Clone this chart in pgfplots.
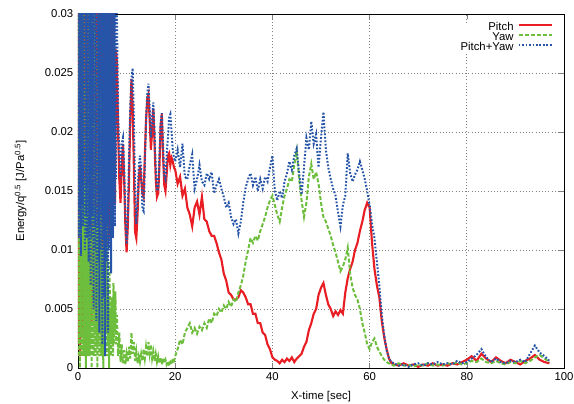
\documentclass[border=0pt]{standalone}
\usepackage{fontspec}
\setmainfont{Liberation Sans}
\usepackage{pgfplots}
\pgfplotsset{compat=1.18}
\definecolor{pitchred}{RGB}{232,30,36}
\definecolor{yawgreen}{RGB}{110,190,62}
\definecolor{sumblue}{RGB}{38,84,168}
\begin{document}
\begin{tikzpicture}
\begin{axis}[
    scale only axis,
    width=364.5pt, height=265.5pt,
    xmin=0, xmax=100, ymin=0, ymax=0.03,
    xtick={0,20,40,60,80,100},
    ytick={0,0.005,0.01,0.015,0.02,0.025,0.03},
    yticklabels={0,0.005,0.01,0.015,0.02,0.025,0.03},
    scaled y ticks=false,
    /pgf/number format/assume math mode=true,
    font=\fontsize{8.5}{10}\selectfont,
    tick label style={font=\fontsize{8.5}{10}\selectfont},
    tick align=inside,
    major tick length=4pt,
    axis line style={line width=0.6pt},
    xmajorgrids=true, ymajorgrids=true,
    grid style={dotted, gray, line width=0.6pt},
    xlabel={X-time [sec]},
    ylabel={Energy/q\textsuperscript{0.5} [J/Pa\textsuperscript{0.5}]},
    xlabel style={yshift=-1pt},
    ylabel style={yshift=7pt},
    legend style={draw=none, fill=white, at={(1,1)}, anchor=north east,
        xshift=-8.25pt, yshift=-6.5pt,
        font=\fontsize{8.5}{9}\selectfont, row sep=0.5pt, column sep=3pt, inner sep=0pt,
        cells={anchor=east},
        nodes={inner sep=0pt, text height=5.5pt, text depth=1.5pt}},
    legend plot pos=right,
    legend image code/.code={\draw[#1] (0cm,0.07cm) -- (0.87cm,0.07cm);},
]
\coordinate (sw) at (rel axis cs:0,0);
\coordinate (ne) at (rel axis cs:1,1);

% Pitch
\addplot[color=pitchred, line width=1.6pt] coordinates {
(0,0.002)(0.2,0.035)(0.4,0.001)(0.6,0.034)(0.8,0.003)(1.0,0.036)(1.2,0.002)(1.4,0.033)(1.6,0.004)(1.8,0.035)
(2.0,0.003)(2.2,0.034)(2.4,0.005)(2.6,0.036)(2.8,0.004)(3.0,0.033)(3.2,0.006)(3.4,0.035)(3.6,0.005)(3.8,0.034)
(4.0,0.007)(4.2,0.035)(4.4,0.006)(4.6,0.033)(4.8,0.008)(5.0,0.034)(5.2,0.009)(5.4,0.035)(5.6,0.008)(5.8,0.033)
(6.0,0.010)(6.2,0.034)(6.4,0.011)(6.6,0.032)(6.8,0.012)(7.0,0.031)(7.2,0.013)(7.4,0.030)(7.6,0.014)(7.8,0.027)
(8.0,0.026)(8.25,0.020)(8.5,0.016)(8.75,0.014)(9.0,0.017)(9.25,0.019)(9.5,0.016)(9.75,0.012)
(10.0,0.0098)(10.25,0.012)(10.5,0.016)(10.75,0.021)(11.0,0.0245)(11.25,0.022)(11.5,0.017)(11.75,0.0115)
(12.0,0.011)(12.25,0.013)(12.5,0.016)(12.75,0.0172)(13.0,0.016)(13.25,0.0148)(13.5,0.0145)(13.75,0.018)
(14.0,0.021)(14.25,0.0228)(14.5,0.0232)(14.75,0.021)(15.0,0.0185)(15.25,0.020)(15.5,0.022)(15.75,0.019)
(16.0,0.016)(16.25,0.0145)(16.5,0.0148)(16.75,0.017)(17.0,0.0205)(17.25,0.0215)(17.5,0.018)(17.75,0.0155)
(18.0,0.015)(18.25,0.0165)(18.5,0.018)(18.75,0.0182)(19.0,0.0172)(19.25,0.0178)(19.5,0.0175)(19.75,0.017)
(20.0,0.0168)(20.5,0.0156)(21.0,0.0162)(21.5,0.0146)(22.0,0.0152)(22.5,0.0136)(23.0,0.0130)(23.5,0.0120)
(24.0,0.0136)(24.5,0.0141)(25.0,0.0130)(25.5,0.0145)(26.0,0.0126)(26.5,0.0124)(27.0,0.0116)(27.5,0.0112)
(28.0,0.0112)(28.5,0.0106)(29.0,0.0098)(29.5,0.0092)(30.0,0.0080)(30.5,0.0074)(31.0,0.0064)(31.5,0.0062)
(32.0,0.0058)(32.5,0.0058)(33.0,0.0060)(33.5,0.0066)(34.0,0.0064)(34.5,0.0060)(35.0,0.0054)(35.5,0.0054)
(36.0,0.0046)(36.5,0.0046)(37.0,0.0038)(37.5,0.0038)(38.0,0.0030)(38.5,0.0028)(39.0,0.0020)(39.5,0.0016)
(40.0,0.0009)(40.5,0.0007)(41.0,0.0006)(41.5,0.0004)(42.0,0.0007)(42.5,0.0005)(43.0,0.0008)(43.5,0.0006)
(44.0,0.0009)(44.5,0.0005)(45.0,0.0008)(45.5,0.0010)(46.0,0.0012)(46.5,0.0018)(47.0,0.0022)(47.5,0.0032)
(48.0,0.0038)(48.5,0.0046)(49.0,0.0050)(49.5,0.0062)(50.0,0.0068)(50.5,0.0072)(51.0,0.0062)(51.5,0.0054)
(52.0,0.0050)(52.5,0.0044)(53.0,0.0048)(53.5,0.0045)(54.0,0.0049)(54.5,0.0046)(55.0,0.0064)(55.5,0.0076)
(56.0,0.0084)(56.5,0.0090)(57.0,0.0100)(57.5,0.0106)(58.0,0.0116)(58.5,0.0124)(59.0,0.0134)(59.5,0.0140)
(60.0,0.0136)(60.5,0.0106)(61.0,0.0084)(61.5,0.0070)(62.0,0.0060)(62.5,0.0040)(63.0,0.0026)(63.5,0.0016)
(64.0,0.0008)(64.5,0.0004)
(65,0.0003)(66,0.0002)(67,0.0004)(68,0.0002)(69,0.0003)(70,0.0001)(71,0.0003)(72,0.0002)(73,0.0004)(74,0.0002)
(75,0.0003)(76,0.0002)(77,0.0004)(78,0.0003)(79,0.0005)(80,0.0007)(81,0.0010)(82,0.0006)(83,0.0012)(84,0.0008)
(85,0.0005)(86,0.0009)(87,0.0006)(88,0.0004)(89,0.0007)(90,0.0005)(91,0.0003)(92,0.0006)(93,0.0008)(94,0.0011)
(95,0.0007)(96,0.0005)(97,0.0004)
};
\addlegendentry{Pitch}

% Yaw
\addplot[color=yawgreen, line width=1.5pt, dash pattern=on 3pt off 1.5pt] coordinates {
(0,0.001)(0.1,0.035)(0.2,0.002)(0.3,0.016)(0.4,0.000)(0.5,0.034)(0.6,0.003)(0.7,0.015)(0.8,0.001)(0.9,0.016)
(1.0,0.002)(1.1,0.035)(1.2,0.001)(1.3,0.015)(1.4,0.003)(1.5,0.016)(1.6,0.000)(1.7,0.034)(1.8,0.002)(1.9,0.015)
(2.0,0.001)(2.1,0.016)(2.2,0.003)(2.3,0.033)(2.4,0.001)(2.5,0.015)(2.6,0.002)(2.7,0.014)(2.8,0.000)(2.9,0.032)
(3.0,0.002)(3.1,0.014)(3.2,0.001)(3.3,0.013)(3.4,0.003)(3.5,0.031)(3.6,0.001)(3.7,0.013)(3.8,0.002)(3.9,0.012)
(4.0,0.000)(4.1,0.028)(4.2,0.002)(4.3,0.012)(4.4,0.001)(4.5,0.011)(4.6,0.003)(4.7,0.024)(4.8,0.001)(4.9,0.010)
(5.0,0.002)(5.1,0.010)(5.2,0.000)(5.3,0.018)(5.4,0.002)(5.5,0.009)(5.6,0.001)(5.7,0.008)(5.8,0.003)(5.9,0.012)
(6.0,0.001)(6.1,0.007)(6.2,0.002)(6.3,0.006)(6.4,0.000)(6.5,0.009)(6.6,0.002)(6.7,0.005)(6.8,0.001)(6.9,0.006)
(7.0,0.002)(7.1,0.004)(7.2,0.001)(7.3,0.0072)(7.4,0.002)(7.5,0.005)(7.6,0.003)(7.7,0.0065)(7.8,0.002)(7.9,0.004)
(8.0,0.0045)(8.25,0.0010)(8.5,0.0030)(8.75,0.0005)(9.0,0.0020)(9.25,0.0004)(9.5,0.0015)(9.75,0.0003)
(10.0,0.0012)(10.25,0.0005)(10.5,0.0018)(10.75,0.0008)(11.0,0.0030)(11.25,0.0012)(11.5,0.0022)(11.75,0.0006)
(12.0,0.0014)(12.25,0.0004)(12.5,0.0010)(12.75,0.0005)(13.0,0.0012)(13.25,0.0006)(13.5,0.0016)(13.75,0.0008)
(14.0,0.0018)(14.25,0.0010)(14.5,0.0022)(14.75,0.0012)(15.0,0.0020)(15.25,0.0008)(15.5,0.0014)(15.75,0.0006)
(16.0,0.0012)(16.25,0.0005)(16.5,0.0010)(16.75,0.0004)(17.0,0.0009)(17.25,0.0003)(17.5,0.0008)(17.75,0.0004)
(18.0,0.0007)(18.25,0.0003)(18.5,0.0006)(18.75,0.0002)(19.0,0.0005)(19.25,0.0003)(19.5,0.0008)(19.75,0.0006)
(20.0,0.0010)(20.5,0.0016)(21.0,0.0024)(21.5,0.0020)(22.0,0.0030)(22.5,0.0034)(23.0,0.0038)(23.5,0.0030)
(24.0,0.0034)(24.5,0.0029)(25.0,0.0035)(25.5,0.0032)(26.0,0.0038)(26.5,0.0034)(27.0,0.0042)(27.5,0.0038)
(28.0,0.0046)(28.5,0.0044)(29.0,0.0050)(29.5,0.0047)(30.0,0.0053)(30.5,0.0050)(31.0,0.0056)(31.5,0.0052)
(32.0,0.0058)(32.5,0.0056)(33.0,0.0064)(33.5,0.0070)(34.0,0.0078)(34.5,0.0090)(35.0,0.0100)(35.5,0.0110)
(36.0,0.0106)(36.5,0.0112)(37.0,0.0108)(37.5,0.0116)(38.0,0.0122)(38.5,0.0128)(39.0,0.0136)(39.5,0.0142)
(40.0,0.0146)(40.5,0.0138)(41.0,0.0130)(41.5,0.0124)(42.0,0.0136)(42.5,0.0146)(43.0,0.0152)(43.5,0.0160)
(44.0,0.0158)(44.5,0.0172)(45.0,0.0184)(45.5,0.0160)(46.0,0.0142)(46.5,0.0128)(47.0,0.0140)(47.5,0.0162)
(48.0,0.0173)(48.5,0.0160)(49.0,0.0166)(49.5,0.0156)(50.0,0.0140)(50.5,0.0128)(51.0,0.0124)(51.5,0.0118)
(52.0,0.0112)(52.5,0.0104)(53.0,0.0098)(53.5,0.0090)(54.0,0.0082)(54.5,0.0086)(55.0,0.0092)(55.5,0.0102)
(56.0,0.0080)(56.5,0.0068)(57.0,0.0062)(57.5,0.0058)(58.0,0.0050)(58.5,0.0038)(59.0,0.0030)(59.5,0.0020)
(60.0,0.0016)(60.5,0.0022)(61.0,0.0025)(61.5,0.0018)(62.0,0.0014)(62.5,0.0010)(63.0,0.0007)(63.5,0.0005)
(64.0,0.0004)(64.5,0.0003)
(65,0.0002)(66,0.0004)(67,0.0002)(68,0.0003)(69,0.0001)(70,0.0003)(71,0.0002)(72,0.0004)(73,0.0002)(74,0.0003)
(75,0.0002)(76,0.0004)(77,0.0003)(78,0.0005)(79,0.0003)(80,0.0004)(81,0.0006)(82,0.0005)(83,0.0008)(84,0.0005)
(85,0.0004)(86,0.0006)(87,0.0004)(88,0.0003)(89,0.0005)(90,0.0004)(91,0.0006)(92,0.0004)(93,0.0006)(94,0.0009)
(95,0.0011)(96,0.0008)(97,0.0005)
};
\addlegendentry{Yaw}

% Pitch+Yaw
\addplot[color=sumblue, line width=1.5pt, dash pattern=on 1.3pt off 1.3pt] coordinates {
(0,0.013)(0.1,0.036)(0.2,0.011)(0.3,0.035)(0.4,0.0135)(0.5,0.036)(0.6,0.0095)(0.7,0.035)(0.8,0.014)(0.9,0.036)
(1.0,0.012)(1.1,0.035)(1.2,0.015)(1.3,0.036)(1.4,0.010)(1.5,0.035)(1.6,0.013)(1.7,0.036)(1.8,0.011)(1.9,0.035)
(2.0,0.014)(2.1,0.036)(2.2,0.009)(2.3,0.035)(2.4,0.012)(2.5,0.036)(2.6,0.007)(2.7,0.035)(2.8,0.011)(2.9,0.036)
(3.0,0.013)(3.1,0.035)(3.2,0.005)(3.3,0.036)(3.4,0.010)(3.5,0.035)(3.6,0.012)(3.7,0.036)(3.8,0.004)(3.9,0.035)
(4.0,0.009)(4.1,0.036)(4.2,0.012)(4.3,0.035)(4.4,0.003)(4.5,0.036)(4.6,0.010)(4.7,0.035)(4.8,0.013)(4.9,0.036)
(5.0,0.002)(5.1,0.035)(5.2,0.011)(5.3,0.036)(5.4,0.006)(5.5,0.035)(5.6,0.001)(5.7,0.036)(5.8,0.009)(5.9,0.035)
(6.0,0.012)(6.1,0.036)(6.2,0.003)(6.3,0.035)(6.4,0.010)(6.5,0.034)(6.6,0.014)(6.7,0.035)(6.8,0.008)(6.9,0.033)
(7.0,0.013)(7.1,0.034)(7.2,0.011)(7.3,0.032)(7.4,0.015)(7.5,0.033)(7.6,0.012)(7.7,0.031)(7.8,0.016)(7.9,0.032)
(8.0,0.030)(8.25,0.022)(8.5,0.018)(8.75,0.016)(9.0,0.019)(9.25,0.0195)(9.5,0.017)(9.75,0.013)
(10.0,0.0105)(10.25,0.013)(10.5,0.018)(10.75,0.022)(11.0,0.0245)(11.25,0.0254)(11.5,0.021)(11.75,0.015)
(12.0,0.0122)(12.25,0.014)(12.5,0.017)(12.75,0.018)(13.0,0.0168)(13.25,0.0135)(13.5,0.0133)(13.75,0.017)
(14.0,0.021)(14.25,0.0232)(14.5,0.0241)(14.75,0.022)(15.0,0.0195)(15.25,0.0212)(15.5,0.0225)(15.75,0.020)
(16.0,0.017)(16.25,0.015)(16.5,0.0152)(16.75,0.018)(17.0,0.0208)(17.25,0.0216)(17.5,0.019)(17.75,0.0163)
(18.0,0.016)(18.25,0.018)(18.5,0.0195)(18.75,0.0212)(19.0,0.0215)(19.25,0.020)(19.5,0.0185)(19.75,0.0178)
(20.0,0.0175)(20.5,0.0185)(21.0,0.0170)(21.5,0.0190)(22.0,0.0162)(22.5,0.0160)(23.0,0.0172)(23.5,0.0181)
(24.0,0.0152)(24.5,0.0160)(25.0,0.0172)(25.5,0.0158)(26.0,0.0155)(26.5,0.0165)(27.0,0.0160)(27.5,0.0166)
(28.0,0.0148)(28.5,0.0155)(29.0,0.0160)(29.5,0.0152)(30.0,0.0145)(30.5,0.0136)(31.0,0.0140)(31.5,0.0128)
(32.0,0.0122)(32.5,0.0126)(33.0,0.0114)(33.5,0.0124)(34.0,0.0140)(34.5,0.0153)(35.0,0.0160)(35.5,0.0165)
(36.0,0.0155)(36.5,0.0162)(37.0,0.0150)(37.5,0.0160)(38.0,0.0152)(38.5,0.0162)(39.0,0.0158)(39.5,0.0170)
(40.0,0.0180)(40.5,0.0150)(41.0,0.0142)(41.5,0.0150)(42.0,0.0144)(42.5,0.0158)(43.0,0.0165)(43.5,0.0175)
(44.0,0.0168)(44.5,0.0180)(45.0,0.0186)(45.5,0.0165)(46.0,0.0147)(46.5,0.0170)(47.0,0.0195)(47.5,0.0185)
(48.0,0.0209)(48.5,0.0190)(49.0,0.0198)(49.5,0.0170)(50.0,0.0195)(50.5,0.0217)(51.0,0.0185)(51.5,0.0170)
(52.0,0.0160)(52.5,0.0152)(53.0,0.0146)(53.5,0.0132)(54.0,0.0120)(54.5,0.0138)(55.0,0.0146)(55.5,0.0182)
(56.0,0.0165)(56.5,0.0158)(57.0,0.0164)(57.5,0.0168)(58.0,0.0175)(58.5,0.0168)(59.0,0.0160)(59.5,0.0150)
(60.0,0.0138)(60.5,0.0122)(61.0,0.0110)(61.5,0.0090)(62.0,0.0070)(62.5,0.0045)(63.0,0.0028)(63.5,0.0015)
(64.0,0.0008)(64.5,0.0005)
(65,0.0004)(66,0.0002)(67,0.0003)(68,0.0001)(69,0.0003)(70,0.0004)(71,0.0002)(72,0.0004)(73,0.0003)(74,0.0005)
(75,0.0003)(76,0.0004)(77,0.0003)(78,0.0006)(79,0.0004)(80,0.0005)(81,0.0008)(82,0.0011)(83,0.0016)(84,0.0009)
(85,0.0005)(86,0.0008)(87,0.0005)(88,0.0004)(89,0.0006)(90,0.0005)(91,0.0007)(92,0.0005)(93,0.0012)(94,0.0019)
(95,0.0013)(96,0.0010)(97,0.0006)
};
\addlegendentry{Pitch+Yaw}
\end{axis}
\pgfresetboundingbox
\path ([shift={(-58.5pt,-26.25pt)}]sw) rectangle ([shift={(7.5pt,10.5pt)}]ne);
\end{tikzpicture}
\end{document}
